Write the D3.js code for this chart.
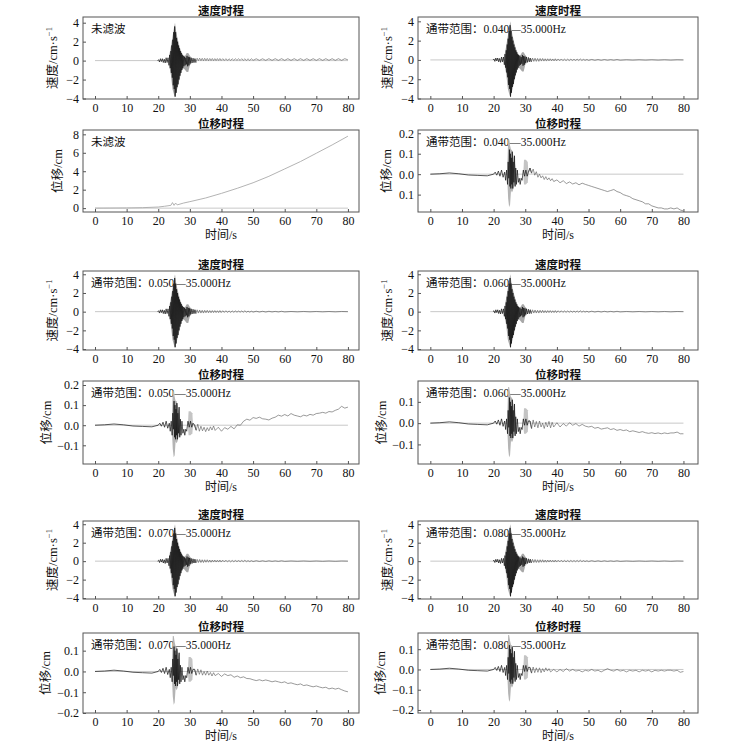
<!DOCTYPE html>
<html>
<head>
<meta charset="utf-8">
<script src="https://cdn.jsdelivr.net/npm/d3@7"></script>
<style>
  body { margin: 0; background: #fff; }
</style>
</head>
<body>
<svg id="chart" width="729" height="752" font-family="Liberation Serif, Noto Sans CJK SC, serif"></svg>
<script>
// ---- data ----
const xTicks = [0, 10, 20, 30, 40, 50, 60, 70, 80];
const velTicks = [-4, -2, 0, 2, 4];
const dispRawTicks = [0, 2, 4, 6, 8];
const bands = ["0.040", "0.050", "0.060", "0.070", "0.080"];

// velocity burst (t, v), shared by all panels
const velBurst = [[19.8,0],[20.1,0.1],[20.4,-0.15],[20.7,0.2],[21,-0.1],[21.3,0.2],[21.6,-0.2],[21.9,0.15],
  [22.2,-0.25],[22.5,0.3],[22.8,-0.2],[23.1,0.3],[23.4,-0.5],[23.6,0.6],[23.8,-0.8],[24.0,1.0],[24.15,-1.3],
  [24.3,1.6],[24.45,-1.8],[24.6,2.2],[24.75,-2.6],[24.9,3.0],[25.05,-3.0],[25.2,3.6],[25.35,-3.8],[25.5,3.0],
  [25.65,-3.4],[25.8,2.4],[25.95,-2.8],[26.1,2.0],[26.25,-2.5],[26.4,1.6],[26.55,-2.0],[26.7,1.3],[26.85,-1.6],
  [27.0,1.0],[27.15,-1.3],[27.3,0.8],[27.45,-1.0],[27.6,0.6],[27.75,-0.8],[27.9,0.5],[28.1,-0.6],[28.3,0.4],
  [28.5,-0.5],[28.7,0.3],[28.9,-0.4],[29.1,0.5],[29.3,-0.6],[29.5,0.4],[29.7,-0.5],[29.9,0.35],[30.1,-0.3],
  [30.4,0.3],[30.7,-0.25],[31,0.25],[31.3,-0.2],[31.6,0.2],[31.9,-0.2]];
// grey envelope of the velocity burst (t, low, high)
const velEnv = [[23.5,-0.6,0.6],[24,-1.5,1.5],[24.5,-3,2.5],[25,-3.6,3.5],[25.3,-3.9,4.0],[25.6,-3.5,3.2],
  [26,-3,2.5],[26.5,-2.3,1.8],[27,-1.6,1.2],[27.5,-1.0,0.8],[28,-0.8,0.5],[28.5,-1.0,0.5],[29,-1.2,0.8],
  [29.5,-1.2,0.8],[30,-0.5,0.5],[30.5,-0.3,0.3]];
const velTailFiltered = [[32.3,0.2],[32.7,-0.15],[33.1,0.18],[33.5,-0.15],[33.9,0.15],[34.3,-0.15],[34.7,0.15],
  [35.1,-0.12],[35.5,0.15],[35.9,-0.12],[36.3,0.12],[36.7,-0.12],[37.1,0.12],[37.5,-0.1],[37.9,0.12],[38.3,-0.1],
  [38.7,0.1],[39.1,-0.1],[39.5,0.12],[39.9,-0.1],[40.4,0.1],[40.9,-0.08],[41.4,0.1],[41.9,-0.08],[42.4,0.08],
  [42.9,-0.08],[43.4,0.08],[43.9,-0.07],[44.4,0.08],[44.9,-0.06],[45.4,0.07],[45.9,-0.06],[46.4,0.08],
  [46.9,-0.06],[47.4,0.1],[47.9,-0.06],[48.4,0.06],[48.9,-0.05],[49.5,0.05],[50,-0.05],[51,0.05],[52,-0.04],
  [53,0.04],[54,-0.04],[55,0.04],[56,-0.03],[57,0.03],[58,-0.03],[59,0.04],[60,-0.03],[62,0.02],[64,-0.02],
  [66,0.02],[68,-0.02],[70,0.02],[72,-0.02],[74,0.02],[76,-0.02],[78,0.02],[80,0]];
const velTailRaw = [[32.3,0.25],[32.7,0],[33.1,0.25],[33.5,0],[33.9,0.24],[34.3,0],[34.7,0.24],
  [35.1,0],[35.5,0.23],[35.9,0],[36.3,0.22],[36.7,0.01],[37.1,0.22],[37.5,0.01],[37.9,0.21],
  [38.3,0.01],[38.7,0.21],[39.1,0.02],[39.5,0.22],[39.9,0.02],[40.4,0.2],[40.9,0.02],[41.4,0.2],
  [41.9,0.02],[42.4,0.19],[42.9,0.03],[43.4,0.19],[43.9,0.03],[44.4,0.19],[44.9,0.03],[45.4,0.19],[45.9,0.03],[46.4,0.2],
  [46.9,0.03],[47.4,0.19],[47.9,0.03],[48.4,0.19],[48.9,0.03],[49.5,0.19],[50,0.03],[51,0.19],[52,0.03],[53,0.19],[54,0.03],
  [55,0.2],[56,0.03],[57,0.2],[58,0.03],[59,0.2],[60,0.03],[61,0.2],[62,0.03],[63,0.2],[64,0.03],[65,0.2],[66,0.03],
  [67,0.2],[68,0.03],[69,0.2],[70,0.03],[71,0.2],[72,0.03],[73,0.2],[74,0.03],[75,0.2],[76,0.03],[77,0.2],[78,0.03],
  [79,0.2],[80,0.08]];

// displacement (t, d)
const dispRaw = [[0,0],[10,0.02],[15,0.05],[20,0.12],[22,0.2],[24,0.3],[24.5,0.6],[25,0.3],[25.5,0.55],
  [26,0.35],[28,0.55],[30,0.7],[35,1.1],[40,1.6],[45,2.15],[50,2.75],[55,3.45],[60,4.25],[65,5.05],
  [70,5.95],[75,6.85],[80,7.8]];
const dispPre = [[0,0],[3,0.002],[6,0.006],[9,0.002],[12,-0.004],[15,-0.006],[18,-0.008]];
const dispBurst = [[20,0],[20.5,0.01],[21,-0.005],[21.5,0.015],[22,-0.01],[22.5,0.02],[23,-0.015],[23.5,0.01],
  [23.8,-0.03],[24.1,0.02],[24.4,-0.05],[24.6,0.06],[24.8,-0.02],[25.0,0.12],[25.15,-0.06],[25.3,0.1],
  [25.45,-0.07],[25.6,0.08],[25.75,-0.05],[25.9,0.11],[26.05,-0.07],[26.2,0.06],[26.4,-0.04],[26.6,0.09],
  [26.8,-0.06],[27.0,0.03],[27.2,-0.05],[27.5,0.02],[27.8,-0.04],[28.1,-0.02],[28.4,-0.05],[28.7,-0.02],
  [29,-0.03],[29.4,0.02],[29.8,-0.01],[30.2,0.02],[30.6,-0.01],[31,0.01]];
const dispEnvMain = [[24.3,-0.02,0.02],[24.6,-0.12,0.17],[24.9,-0.16,0.17],[25.2,-0.15,0.14],[25.5,-0.08,0.12],
  [25.8,-0.09,0.12],[26.1,-0.08,0.1],[26.4,-0.06,0.08],[26.7,-0.05,0.06],[27.0,-0.02,0.02]];
const dispEnvLate = [[29.4,-0.01,0.01],[29.6,-0.05,0.07],[30.2,-0.05,0.07],[30.8,-0.04,0.06],[31,0,0]];

const dispTail040 = [[31.5,0.03],[32,0.005],[32.5,0.025],[33,-0.005],[33.5,0.012],[34,-0.015],[34.5,0.0],[35,-0.018],
  [35.5,-0.008],[36,-0.026],[36.5,-0.012],[37,-0.028],[37.5,-0.018],[38,-0.032],[38.5,-0.022],[39,-0.036],[40,-0.028],
  [41,-0.042],[42,-0.032],[43,-0.046],[44,-0.038],[45,-0.048],[46,-0.042],[47,-0.052],[48,-0.044],[49,-0.05],
  [50,-0.055],[51,-0.06],[52,-0.065],[53,-0.07],[54,-0.075],[55,-0.08],[56,-0.085],[57,-0.08],[58,-0.075],
  [59,-0.085],[60,-0.09],[61,-0.1],[62,-0.105],[63,-0.11],[64,-0.12],[65,-0.125],[66,-0.13],[67,-0.135],
  [68,-0.145],[69,-0.145],[70,-0.155],[71,-0.16],[72,-0.165],[73,-0.165],[74,-0.17],[75,-0.17],[76,-0.165],
  [77,-0.17],[78,-0.165],[79,-0.175],[80,-0.18]];
const dispTail050 = [[31.5,0],[32,-0.025],[32.5,0.005],[33,-0.03],[33.5,-0.005],[34,-0.028],[34.5,-0.01],[35,-0.032],
  [35.5,-0.012],[36,-0.028],[36.5,-0.008],[37,-0.024],[37.5,-0.004],[38,-0.026],[39,-0.01],[40,-0.03],[41,-0.012],
  [42,-0.02],[43,-0.006],[44,-0.018],[45,0.002],[46,0],[47,0.02],[48,0.03],[49,0.025],[50,0.038],[51,0.034],
  [52,0.04],[53,0.032],[54,0.03],[55,0.026],[56,0.035],[57,0.04],[58,0.05],[59,0.045],[60,0.053],[61,0.046],
  [62,0.058],[63,0.05],[64,0.046],[65,0.042],[66,0.05],[67,0.046],[68,0.054],[69,0.05],[70,0.058],[71,0.06],
  [72,0.064],[73,0.06],[74,0.068],[75,0.066],[76,0.074],[77,0.08],[78,0.094],[79,0.085],[80,0.09]];
const dispTail060 = [[31.5,0.01],[32,-0.025],[32.5,0.015],[33,-0.018],[33.5,0.008],[34,-0.022],[34.5,0.01],[35,-0.018],
  [35.5,0],[36,-0.025],[36.5,0.004],[37,-0.018],[37.5,0.008],[38,-0.022],[38.5,0.004],[39,-0.018],[40,0.002],
  [41,-0.018],[42,-0.002],[43,-0.014],[44,0.002],[45,-0.01],[46,-0.002],[47,-0.014],[48,-0.006],[49,-0.014],[50,-0.018],
  [51,-0.015],[52,-0.024],[53,-0.02],[54,-0.028],[55,-0.025],[56,-0.022],[57,-0.03],[58,-0.026],[59,-0.034],
  [60,-0.03],[61,-0.035],[62,-0.032],[63,-0.04],[64,-0.036],[65,-0.04],[66,-0.044],[67,-0.04],[68,-0.045],
  [69,-0.048],[70,-0.045],[71,-0.049],[72,-0.046],[73,-0.05],[74,-0.046],[75,-0.049],[76,-0.046],[77,-0.046],
  [78,-0.042],[79,-0.05],[80,-0.05]];
const dispTail070 = [[31.5,0.01],[32,-0.018],[32.5,0.012],[33,-0.014],[33.5,0.008],[34,-0.018],[34.5,0],[35,-0.018],
  [35.5,0.002],[36,-0.018],[36.5,-0.005],[37,-0.022],[37.5,-0.006],[38,-0.02],[39,-0.01],[40,-0.024],[41,-0.012],
  [42,-0.02],[43,-0.016],[44,-0.028],[45,-0.022],[46,-0.03],[47,-0.026],[48,-0.034],[49,-0.035],[50,-0.04],
  [51,-0.044],[52,-0.04],[53,-0.045],[54,-0.041],[55,-0.045],[56,-0.05],[57,-0.046],[58,-0.05],[59,-0.054],
  [60,-0.05],[61,-0.058],[62,-0.055],[63,-0.06],[64,-0.064],[65,-0.06],[66,-0.068],[67,-0.065],[68,-0.07],
  [69,-0.074],[70,-0.07],[71,-0.075],[72,-0.079],[73,-0.076],[74,-0.084],[75,-0.08],[76,-0.085],[77,-0.081],
  [78,-0.088],[79,-0.094],[80,-0.098]];
const dispTail080 = [[31.5,0.01],[32,-0.018],[32.5,0.012],[33,-0.016],[33.5,0.008],[34,-0.014],[34.5,0.008],[35,-0.016],
  [35.5,0.004],[36,-0.012],[36.5,0.008],[37,-0.008],[37.5,0.004],[38,-0.012],[39,0],[40,-0.012],[41,0],[42,-0.01],
  [43,0.004],[44,-0.008],[45,0],[46,-0.008],[47,-0.004],[48,-0.012],[49,-0.004],[50,-0.008],[51,0],[52,-0.008],
  [53,-0.004],[54,-0.012],[55,-0.004],[56,0.004],[57,-0.004],[58,-0.008],[59,0],[60,-0.008],[61,-0.004],
  [62,-0.012],[63,-0.004],[64,-0.008],[65,-0.004],[66,-0.012],[67,-0.004],[68,-0.008],[69,-0.004],[70,-0.012],
  [71,-0.004],[72,-0.008],[73,-0.004],[74,-0.008],[75,-0.004],[76,-0.004],[77,-0.008],[78,-0.004],[79,-0.014],
  [80,-0.01]];

// ---- layout ----
const cols = [{left: 83, right: 359, dom: [-3.8, 83.5]}, {left: 418, right: 698, dom: [-3.9, 84.6]}];
const velRows = [[17, 99], [271, 350], [521, 599]];
const dispRows = [[130, 212], [381, 464], [633, 713]];

const svg = d3.select("#chart");
svg.append("rect").attr("width", 729).attr("height", 752).attr("fill", "#fff");

const velRaw = velBurst.concat(velTailRaw);
const velFilt = velBurst.concat(velTailFiltered);
const note = b => "通带范围：" + b + "—35.000Hz";

const panels = [
  {c: 0, r: 0, kind: "vel", data: velRaw, note: "未滤波", ydom: [-4.05, 4.6], ticks: velTicks},
  {c: 0, r: 0, kind: "disp", data: dispRaw, note: "未滤波", ydom: [-0.42, 8.47], ticks: dispRawTicks, raw: true, lab: 21},
  {c: 1, r: 0, kind: "vel", data: velFilt, note: note(bands[0]), ydom: [-4.05, 4.45], ticks: velTicks},
  {c: 1, r: 0, kind: "disp", data: dispPre.concat(dispBurst, dispTail040), note: note(bands[0]), ydom: [-0.185, 0.216],
    ticks: [0.2, 0.1, 0, -0.1], labels: ["0.2", "0.1", "0.0", "0.1"], lab: 27},
  {c: 0, r: 1, kind: "vel", data: velFilt, note: note(bands[1]), ydom: [-4.1, 4.35], ticks: velTicks},
  {c: 0, r: 1, kind: "disp", data: dispPre.concat(dispBurst, dispTail050), note: note(bands[1]), ydom: [-0.193, 0.22],
    ticks: [0.2, 0.1, 0, -0.1], labels: ["0.2", "0.1", "0.0", "−0.1"], lab: 32},
  {c: 1, r: 1, kind: "vel", data: velFilt, note: note(bands[2]), ydom: [-4.1, 4.35], ticks: velTicks},
  {c: 1, r: 1, kind: "disp", data: dispPre.concat(dispBurst, dispTail060), note: note(bands[2]), ydom: [-0.192, 0.198],
    ticks: [0.1, 0, -0.1], labels: ["0.1", "0.0", "−0.1"], lab: 32},
  {c: 0, r: 2, kind: "vel", data: velFilt, note: note(bands[3]), ydom: [-4.1, 4.35], ticks: velTicks},
  {c: 0, r: 2, kind: "disp", data: dispPre.concat(dispBurst, dispTail070), note: note(bands[3]), ydom: [-0.2, 0.185],
    ticks: [0.1, 0, -0.1, -0.2], labels: ["0.1", "0.0", "−0.1", "−0.2"], lab: 33},
  {c: 1, r: 2, kind: "vel", data: velFilt, note: note(bands[4]), ydom: [-4.1, 4.35], ticks: velTicks},
  {c: 1, r: 2, kind: "disp", data: dispPre.concat(dispBurst, dispTail080), note: note(bands[4]), ydom: [-0.215, 0.18],
    ticks: [0.1, 0, -0.1, -0.2], labels: ["0.1", "0.0", "−0.1", "−0.2"], lab: 33}
];

panels.forEach(drawPanel);

function drawPanel(p) {
  const col = cols[p.c];
  const [top, bottom] = p.kind === "vel" ? velRows[p.r] : dispRows[p.r];
  const x = d3.scaleLinear().domain(col.dom).range([col.left, col.right]);
  const y = d3.scaleLinear().domain(p.ydom).range([bottom, top]);
  const g = svg.append("g");

  // grey zero line
  g.append("line")
    .attr("x1", x(0)).attr("x2", x(80)).attr("y1", y(0)).attr("y2", y(0))
    .attr("stroke", "#c8c8c8").attr("stroke-width", 1);

  g.append("text")
    .attr("x", col.left + 8).attr("y", top + 15.5)
    .attr("font-size", 11.5).attr("fill", "#111")
    .text(p.note);

  const area = d3.area().x(d => x(d[0])).y0(d => y(d[1])).y1(d => y(d[2]));
  const line = d3.line().x(d => x(d[0])).y(d => y(d[1]));

  if (p.kind === "vel") {
    g.append("path").attr("d", area(velEnv)).attr("fill", "#a8a8a8");
  } else if (!p.raw) {
    g.append("path").attr("d", area(dispEnvMain)).attr("fill", "#b4b4b4");
    g.append("path").attr("d", area(dispEnvLate)).attr("fill", "#c4c4c4");
  }

  if (p.raw) {
    g.append("path").attr("d", line(p.data))
      .attr("fill", "none").attr("stroke", "#aaa").attr("stroke-width", 0.9);
  } else {
    // strong motion part in black, the coda in a lighter grey
    g.append("path").attr("d", line(p.data.filter(d => d[0] <= 32)))
      .attr("fill", "none").attr("stroke", "#111").attr("stroke-width", 0.7);
    g.append("path").attr("d", line(p.data.filter(d => d[0] >= 31)))
      .attr("fill", "none").attr("stroke", "#555").attr("stroke-width", 0.6);
  }

  // frame
  g.append("rect")
    .attr("x", col.left).attr("y", top)
    .attr("width", col.right - col.left).attr("height", bottom - top)
    .attr("fill", "none").attr("stroke", "#555").attr("stroke-width", 1);

  const xAxis = d3.axisBottom(x).tickValues(xTicks).tickSizeInner(-3).tickSizeOuter(0).tickPadding(4.5);
  const gx = g.append("g").attr("transform", "translate(0," + bottom + ")").call(xAxis);
  const yAxis = d3.axisLeft(y).tickValues(p.ticks).tickSizeInner(-3).tickSizeOuter(0).tickPadding(4);
  if (p.labels) yAxis.tickFormat((d, i) => p.labels[i]);
  const gy = g.append("g").attr("transform", "translate(" + col.left + ",0)").call(yAxis);
  [gx, gy].forEach(a => {
    a.select(".domain").remove();
    a.attr("font-family", "Liberation Serif, serif").attr("font-size", 12);
    a.selectAll("line").attr("stroke", "#555");
    a.selectAll("text").attr("fill", "#111");
  });

  // title
  g.append("text")
    .attr("x", (col.left + col.right) / 2).attr("y", top - 2.5)
    .attr("text-anchor", "middle").attr("font-size", 11.5).attr("font-weight", "bold")
    .attr("fill", "#111")
    .text(p.kind === "vel" ? "速度时程" : "位移时程");

  // y label
  const lx = col.left - (p.kind === "vel" ? 26 : p.lab);
  const ly = (top + bottom) / 2;
  const yl = g.append("text")
    .attr("transform", "translate(" + lx + "," + ly + ") rotate(-90)")
    .attr("text-anchor", "middle").attr("font-size", 12.5).attr("fill", "#111");
  if (p.kind === "vel") {
    yl.append("tspan").text("速度/cm·s");
    yl.append("tspan").attr("font-size", 8.5).attr("dy", -5).text("−1");
  } else {
    yl.text("位移/cm");
  }

  if (p.kind === "disp") {
    g.append("text")
      .attr("x", (col.left + col.right) / 2).attr("y", bottom + 27)
      .attr("text-anchor", "middle").attr("font-size", 12).attr("fill", "#111")
      .text("时间/s");
  }
}
</script>
</body>
</html>
